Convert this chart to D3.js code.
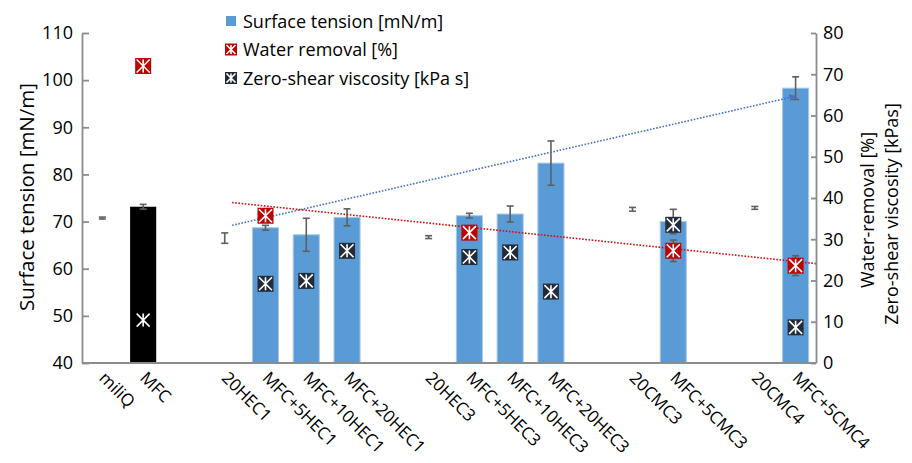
<!DOCTYPE html>
<meta charset="utf-8">
<title>Surface tension, water removal and viscosity</title>
<style>
  body { margin: 0; background: #fff; }
  text { font-family: "Open Sans", sans-serif; fill: #000; }
</style>
<body>
  <script src="https://d3js.org/d3.v7.min.js"></script>
  <script>
    const width = 912;
    const height = 463;

    // categories ("" = empty slot on the axis)
    const categories = ["miliQ", "MFC", "", "20HEC1", "MFC+5HEC1", "MFC+10HEC1", "MFC+20HEC1", "",
      "20HEC3", "MFC+5HEC3", "MFC+10HEC3", "MFC+20HEC3", "", "20CMC3", "MFC+5CMC3", "", "20CMC4", "MFC+5CMC4"];
    // surface tension [mN/m] and its error
    const tension = [70.75, 73.15, null, 66.5, 68.7, 67.2, 70.9, null, 66.7, 71.25, 71.6, 82.4, null, 72.6, 70.0, null, 72.9, 98.3];
    const tensionErr = [0.2, 0.5, null, 1.1, 0.5, 3.5, 1.8, null, 0.3, 0.5, 1.7, 4.7, null, 0.4, 2.6, null, 0.3, 2.4];
    // water removal [%]
    const water = [null, 72.0, null, null, 35.7, null, null, null, null, 31.6, null, null, null, null, 27.2, null, null, 23.6];
    const waterErr = [null, null, null, null, null, null, null, null, null, null, null, null, null, null, 2.6, null, null, 2.4];
    // zero-shear viscosity [kPa s]
    const viscosity = [null, 10.4, null, null, 19.2, 19.9, 27.2, null, null, 25.7, 26.8, 17.3, null, null, 33.5, null, null, 8.65];
    // linear trend lines: [category position, value]
    const tensionTrend = [[3.18, 69.2], [17.0, 96.6]];
    const waterTrend = [[3.18, 38.9], [17.5, 24.1]];

    const leftTicks = [40, 50, 60, 70, 80, 90, 100, 110];
    const rightTicks = [0, 10, 20, 30, 40, 50, 60, 70, 80];

    const legendItems = ["Surface tension [mN/m]", "Water removal [%]", "Zero-shear viscosity [kPa s]"];

    const blue = "#5b9bd5";
    const red = "#c00000";
    const navy = "#232b38";
    const axisColor = "#8c8c8c";

    const plot = {left: 82, right: 816, top: 33, bottom: 363};

    const svg = d3.select("body")
      .append("svg")
      .attr("width", width)
      .attr("height", height);

    // scales
    const x = d3.scaleBand()
      .domain(d3.range(categories.length))
      .range([plot.left, plot.right])
      .paddingInner(0.36)
      .paddingOuter(0.18);
    const step = x.step();
    const xc = i => plot.left + step * (i + 0.5); // continuous position for trend lines

    const yLeft = d3.scaleLinear().domain([40, 110]).range([plot.bottom, plot.top]);
    const yRight = d3.scaleLinear().domain([0, 80]).range([plot.bottom, plot.top]);

    const rows = categories.map((c, i) => ({
      i, name: c, t: tension[i], te: tensionErr[i], w: water[i], we: waterErr[i], v: viscosity[i]
    }));

    // bars (only the MFC samples get a visible bar)
    svg.append("g")
      .selectAll("rect")
      .data(rows.filter(d => d.t != null && d.name.startsWith("MFC")))
      .enter()
      .append("rect")
      .attr("x", d => x(d.i))
      .attr("width", x.bandwidth())
      .attr("y", d => yLeft(d.t))
      .attr("height", d => yLeft(40) - yLeft(d.t))
      .style("fill", d => d.name === "MFC" ? "#000" : blue)
      .style("stroke", d => d.name === "MFC" ? "none" : "#a8c9ea")
      .style("stroke-width", 1);

    // error bars helper
    function errorBars(g, data, y, getV, getE) {
      const cap = 3.5;
      const sel = g.selectAll("g")
        .data(data)
        .enter()
        .append("g")
        .style("stroke", "#5f5f5f")
        .style("stroke-width", 1.6);
      sel.append("line")
        .attr("x1", d => x(d.i) + x.bandwidth() / 2)
        .attr("x2", d => x(d.i) + x.bandwidth() / 2)
        .attr("y1", d => y(getV(d) - getE(d)))
        .attr("y2", d => y(getV(d) + getE(d)));
      [-1, 1].forEach(s => {
        sel.append("line")
          .attr("x1", d => x(d.i) + x.bandwidth() / 2 - cap)
          .attr("x2", d => x(d.i) + x.bandwidth() / 2 + cap)
          .attr("y1", d => y(getV(d) + s * getE(d)))
          .attr("y2", d => y(getV(d) + s * getE(d)));
      });
    }

    errorBars(svg.append("g"), rows.filter(d => d.t != null), yLeft, d => d.t, d => d.te);

    // trend lines
    svg.append("defs")
      .append("marker")
      .attr("id", "arrow")
      .attr("viewBox", "0 0 10 10")
      .attr("refX", 9)
      .attr("refY", 5)
      .attr("markerWidth", 7)
      .attr("markerHeight", 7)
      .attr("markerUnits", "userSpaceOnUse")
      .attr("orient", "auto")
      .append("path")
      .attr("d", "M0,0L10,5L0,10Z")
      .style("fill", "#4472c4");

    svg.append("path")
      .datum(tensionTrend)
      .attr("d", d3.line().x(d => xc(d[0])).y(d => yLeft(d[1])))
      .style("fill", "none")
      .style("stroke", "#4472c4")
      .style("stroke-width", 1.6)
      .style("stroke-dasharray", "1.6,1.6")
      .attr("marker-end", "url(#arrow)");

    svg.append("path")
      .datum(waterTrend)
      .attr("d", d3.line().x(d => xc(d[0])).y(d => yRight(d[1])))
      .style("fill", "none")
      .style("stroke", "#d01010")
      .style("stroke-width", 1.6)
      .style("stroke-dasharray", "1.6,1.6");

    // star-in-square marker (Excel style)
    function starMarker(g, size, fill) {
      const h = size / 2;
      g.append("rect")
        .attr("x", -h).attr("y", -h)
        .attr("width", size).attr("height", size)
        .style("fill", fill);
      const s = h - 1.5;
      const p = `M${-s},${-s}L${s},${s}M${s},${-s}L${-s},${s}M0,${-s}L0,${s}`;
      g.append("path")
        .attr("d", p)
        .style("stroke", "#fff")
        .style("stroke-width", 1.6)
        .style("fill", "none");
    }

    // viscosity markers
    svg.append("g")
      .selectAll("g")
      .data(rows.filter(d => d.v != null))
      .enter()
      .append("g")
      .attr("transform", d => `translate(${x(d.i) + x.bandwidth() / 2},${yRight(d.v)})`)
      .each(function(d) { starMarker(d3.select(this), 16, d.name === "MFC" ? "#000" : navy); });

    // water removal error bars + markers
    errorBars(svg.append("g"), rows.filter(d => d.we != null), yRight, d => d.w, d => d.we);
    svg.append("g")
      .selectAll("g")
      .data(rows.filter(d => d.w != null))
      .enter()
      .append("g")
      .attr("transform", d => `translate(${x(d.i) + x.bandwidth() / 2},${yRight(d.w)})`)
      .each(function() { starMarker(d3.select(this), 16, red); });

    // axes
    const leftAxis = svg.append("g")
      .attr("transform", `translate(${plot.left},0)`)
      .call(d3.axisLeft(yLeft).tickValues(leftTicks).tickSize(-7).tickPadding(9).tickSizeOuter(0));
    const rightAxis = svg.append("g")
      .attr("transform", `translate(${plot.right},0)`)
      .call(d3.axisRight(yRight).tickValues(rightTicks).tickSize(-5).tickPadding(7).tickSizeOuter(0));
    const bottomAxis = svg.append("g")
      .attr("transform", `translate(0,${plot.bottom})`)
      .call(d3.axisBottom(x).tickSize(0).tickSizeOuter(0).tickFormat(i => categories[i]));

    [leftAxis, rightAxis, bottomAxis].forEach(a => {
      a.selectAll("path, line").style("stroke", axisColor).style("stroke-width", 1.8);
      a.selectAll("text").style("font-size", "18px").style("fill", "#000")
        .style("font-family", "'Open Sans', sans-serif");
    });
    bottomAxis.select(".domain").attr("d", `M${plot.left},0H${plot.right}`);

    // rotated category labels
    bottomAxis.selectAll(".tick text")
      .attr("text-anchor", "start")
      .attr("x", 0)
      .attr("y", 0)
      .attr("dy", 0)
      .attr("transform", `translate(${-x.bandwidth() / 2 + 9},16) rotate(45)`)
      .style("font-size", "17px");

    // axis titles
    svg.append("text")
      .attr("transform", "translate(34,197) rotate(-90)")
      .attr("text-anchor", "middle")
      .style("font-size", "20.5px")
      .text("Surface tension [mN/m]");
    svg.append("text")
      .attr("transform", "translate(874,210) rotate(-90)")
      .attr("text-anchor", "middle")
      .style("font-size", "18px")
      .text("Water-removal [%]");
    svg.append("text")
      .attr("transform", "translate(898,214) rotate(-90)")
      .attr("text-anchor", "middle")
      .style("font-size", "18px")
      .text("Zero-shear viscosity [kPas]");

    // legend
    const legend = svg.append("g").attr("transform", "translate(231,0)");
    const ly = [21, 49.5, 78];
    legend.append("rect")
      .attr("x", -5).attr("y", ly[0] - 5)
      .attr("width", 10).attr("height", 10)
      .style("fill", blue);
    starMarker(legend.append("g").attr("transform", `translate(0,${ly[1]})`), 12, red);
    starMarker(legend.append("g").attr("transform", `translate(0,${ly[2]})`), 12, navy);
    legend.selectAll("text")
      .data(legendItems)
      .enter()
      .append("text")
      .attr("x", 12)
      .attr("y", (d, i) => ly[i] + 6.5)
      .style("font-size", "18px")
      .text(d => d);
  </script>
</body>
